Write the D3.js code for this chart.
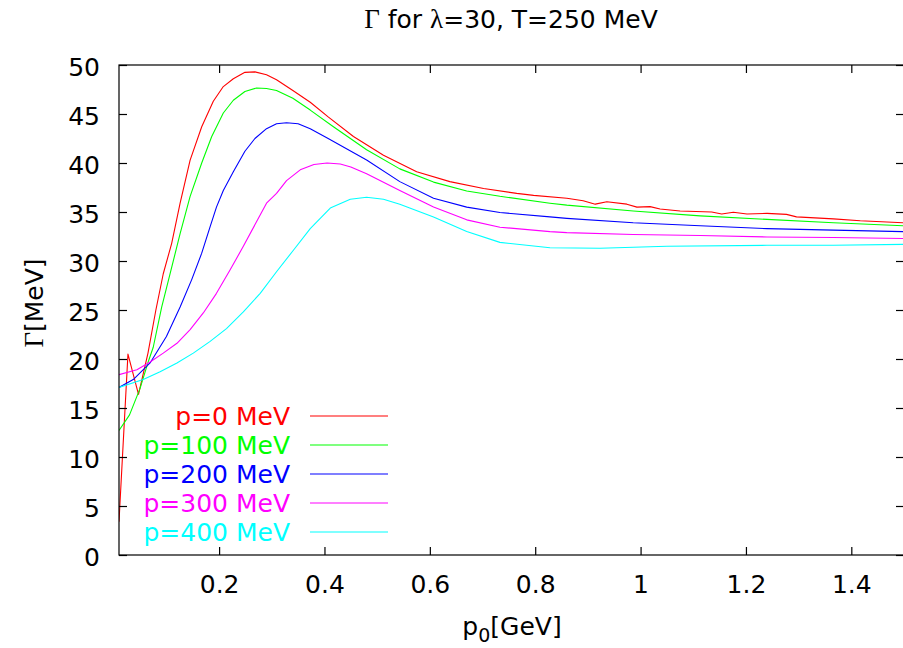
<!DOCTYPE html>
<html>
<head>
<meta charset="utf-8">
<script src="https://cdn.jsdelivr.net/npm/d3@7"></script>
<style>
  html, body { margin: 0; padding: 0; background: #fff; }
  svg { display: block; }
  text { font-family: "DejaVu Sans", "Liberation Sans", sans-serif; }
</style>
</head>
<body>
<svg id="chart" width="903" height="648"></svg>
<script>
// ---- data ----
const seriesLabels = ["p=0 MeV", "p=100 MeV", "p=200 MeV", "p=300 MeV", "p=400 MeV"];
const seriesColors = ["#ff0000", "#00ff00", "#0000ff", "#ff00ff", "#00ffff"];

const p0Data = [[0.01,3.4],[0.027,20.5],[0.047,16.4],[0.065,20.6],[0.08,25.0],[0.094,28.7],[0.11,31.8],[0.126,35.9],[0.145,40.3],[0.167,43.7],[0.189,46.3],[0.208,47.8],[0.227,48.6],[0.249,49.25],[0.268,49.3],[0.29,49.0],[0.309,48.5],[0.34,47.4],[0.373,46.2],[0.407,44.7],[0.455,42.7],[0.512,40.8],[0.575,39.1],[0.638,38.1],[0.702,37.4],[0.765,36.9],[0.797,36.7],[0.86,36.4],[0.891,36.15],[0.914,35.8],[0.936,36.05],[0.974,35.8],[0.993,35.5],[1.018,35.55],[1.037,35.3],[1.075,35.1],[1.135,35.0],[1.154,34.8],[1.176,34.97],[1.202,34.8],[1.24,34.86],[1.277,34.76],[1.296,34.5],[1.366,34.3],[1.417,34.1],[1.5,33.9]];

const p100Data = [[0.01,12.7],[0.03,14.3],[0.05,17.0],[0.066,19.8],[0.075,21.2],[0.091,25.3],[0.107,28.7],[0.126,32.8],[0.145,36.6],[0.167,40.0],[0.186,42.7],[0.208,45.1],[0.227,46.4],[0.249,47.3],[0.271,47.65],[0.29,47.6],[0.309,47.4],[0.34,46.6],[0.373,45.4],[0.417,43.7],[0.48,41.35],[0.543,39.4],[0.607,38.05],[0.67,37.15],[0.733,36.6],[0.828,35.9],[0.86,35.7],[0.986,35.1],[1.113,34.6],[1.24,34.25],[1.366,33.9],[1.5,33.6]];

const p200Data = [[0.01,17.1],[0.037,17.9],[0.069,19.6],[0.1,22.3],[0.126,25.3],[0.148,28.1],[0.167,30.8],[0.183,33.5],[0.195,35.5],[0.208,37.2],[0.227,39.1],[0.249,41.2],[0.268,42.5],[0.29,43.5],[0.309,44.0],[0.328,44.1],[0.35,44.0],[0.373,43.5],[0.407,42.5],[0.48,40.3],[0.543,38.1],[0.607,36.4],[0.67,35.5],[0.733,34.95],[0.828,34.5],[0.86,34.35],[0.986,33.9],[1.113,33.6],[1.24,33.3],[1.366,33.15],[1.5,33.0]];

const p300Data = [[0.01,18.4],[0.044,18.9],[0.069,19.7],[0.094,20.6],[0.12,21.6],[0.145,23.0],[0.17,24.7],[0.195,26.7],[0.221,29.1],[0.246,31.5],[0.271,34.0],[0.29,35.9],[0.309,36.9],[0.328,38.2],[0.354,39.3],[0.38,39.85],[0.405,40.0],[0.43,39.9],[0.45,39.6],[0.48,38.9],[0.543,37.2],[0.607,35.5],[0.67,34.2],[0.733,33.45],[0.828,33.0],[0.86,32.9],[0.986,32.7],[1.113,32.6],[1.24,32.45],[1.366,32.4],[1.5,32.3]];

const p400Data = [[0.01,17.1],[0.056,17.9],[0.088,18.7],[0.12,19.6],[0.151,20.6],[0.183,21.8],[0.214,23.1],[0.246,24.8],[0.278,26.7],[0.309,28.9],[0.341,31.1],[0.373,33.3],[0.411,35.4],[0.449,36.3],[0.48,36.5],[0.512,36.3],[0.543,35.8],[0.607,34.5],[0.67,33.0],[0.733,31.9],[0.828,31.35],[0.923,31.3],[1.05,31.5],[1.24,31.6],[1.366,31.6],[1.5,31.7]];

const xTicks = [0.2, 0.4, 0.6, 0.8, 1.0, 1.2, 1.4];
const xTickLabels = ["0.2", "0.4", "0.6", "0.8", "1", "1.2", "1.4"];
const yTicks = [0, 5, 10, 15, 20, 25, 30, 35, 40, 45, 50];

const allSeries = [p0Data, p100Data, p200Data, p300Data, p400Data];

// ---- layout ----
const svg = d3.select("#chart");
const L = 119, R = 904, T = 65, B = 555;
const FS = 25;

const x = d3.scaleLinear().domain([0.01, 1.5]).range([L, R]);
const y = d3.scaleLinear().domain([0, 50]).range([B, T]);

svg.append("defs").append("clipPath").attr("id", "clip")
  .append("rect").attr("x", L).attr("y", T).attr("width", R - L).attr("height", B - T);

// curves
const line = d3.line().x(d => x(d[0])).y(d => y(d[1]));
const curves = svg.append("g").attr("clip-path", "url(#clip)");
allSeries.forEach((data, i) => {
  curves.append("path").datum(data)
    .attr("d", line)
    .attr("fill", "none")
    .attr("stroke", seriesColors[i])
    .attr("stroke-width", 1.1)
    .attr("stroke-linejoin", "round");
});

// axes
const axisStyle = g => {
  g.select(".domain").remove();
  g.selectAll(".tick line").attr("stroke", "#000").attr("stroke-width", 1.2);
  g.selectAll("text").attr("font-size", FS).attr("fill", "#000")
    .attr("font-family", "DejaVu Sans, Liberation Sans, sans-serif");
};

svg.append("g").attr("transform", `translate(0,${B})`)
  .call(d3.axisBottom(x).tickValues(xTicks).tickSize(-8).tickPadding(20)
    .tickFormat((d, i) => xTickLabels[i]))
  .call(axisStyle);

svg.append("g").attr("transform", `translate(0,${T})`)
  .call(d3.axisTop(x).tickValues(xTicks).tickSize(-8).tickFormat(""))
  .call(axisStyle);

svg.append("g").attr("transform", `translate(${L},0)`)
  .call(d3.axisLeft(y).tickValues(yTicks).tickSize(-8).tickPadding(19))
  .call(axisStyle)
  .selectAll("text").attr("dy", "0.4em");

svg.append("g").attr("transform", `translate(${R},0)`)
  .call(d3.axisRight(y).tickValues(yTicks).tickSize(-8).tickFormat(""))
  .call(axisStyle);

// border
svg.append("rect").attr("x", L).attr("y", T).attr("width", R - L).attr("height", B - T)
  .attr("fill", "none").attr("stroke", "#000").attr("stroke-width", 1.2);

// legend
const legY0 = 416, legDY = 29;
seriesLabels.forEach((lab, i) => {
  const ly = legY0 + i * legDY;
  svg.append("text").attr("x", 290).attr("y", ly + 9)
    .attr("text-anchor", "end").attr("font-size", FS)
    .attr("fill", seriesColors[i]).text(lab);
  svg.append("line").attr("x1", 310).attr("x2", 388).attr("y1", ly).attr("y2", ly)
    .attr("stroke", seriesColors[i]).attr("stroke-width", 1.1);
});

// title
const title = svg.append("text").attr("x", 511).attr("y", 28)
  .attr("text-anchor", "middle").attr("font-size", 25).attr("fill", "#000");
title.append("tspan").attr("font-family", "Liberation Serif, DejaVu Serif, serif").attr("font-size", 27).text("Γ");
title.append("tspan").text(" for ");
title.append("tspan").attr("font-family", "Liberation Serif, DejaVu Serif, serif").attr("font-size", 27).text("λ");
title.append("tspan").text("=30, T=250 MeV");

// y label
const yl = svg.append("text").attr("transform", "translate(43,303) rotate(-90)")
  .attr("text-anchor", "middle").attr("font-size", FS).attr("fill", "#000");
yl.append("tspan").attr("font-family", "Liberation Serif, DejaVu Serif, serif").attr("font-size", 27).text("Γ");
yl.append("tspan").text("[MeV]");

// x label
const xl = svg.append("text").attr("x", 512).attr("y", 635)
  .attr("text-anchor", "middle").attr("font-size", FS).attr("fill", "#000");
xl.append("tspan").text("p");
xl.append("tspan").attr("dy", 7).attr("font-size", 19).text("0");
xl.append("tspan").attr("dy", -7).text("[GeV]");
</script>
</body>
</html>
